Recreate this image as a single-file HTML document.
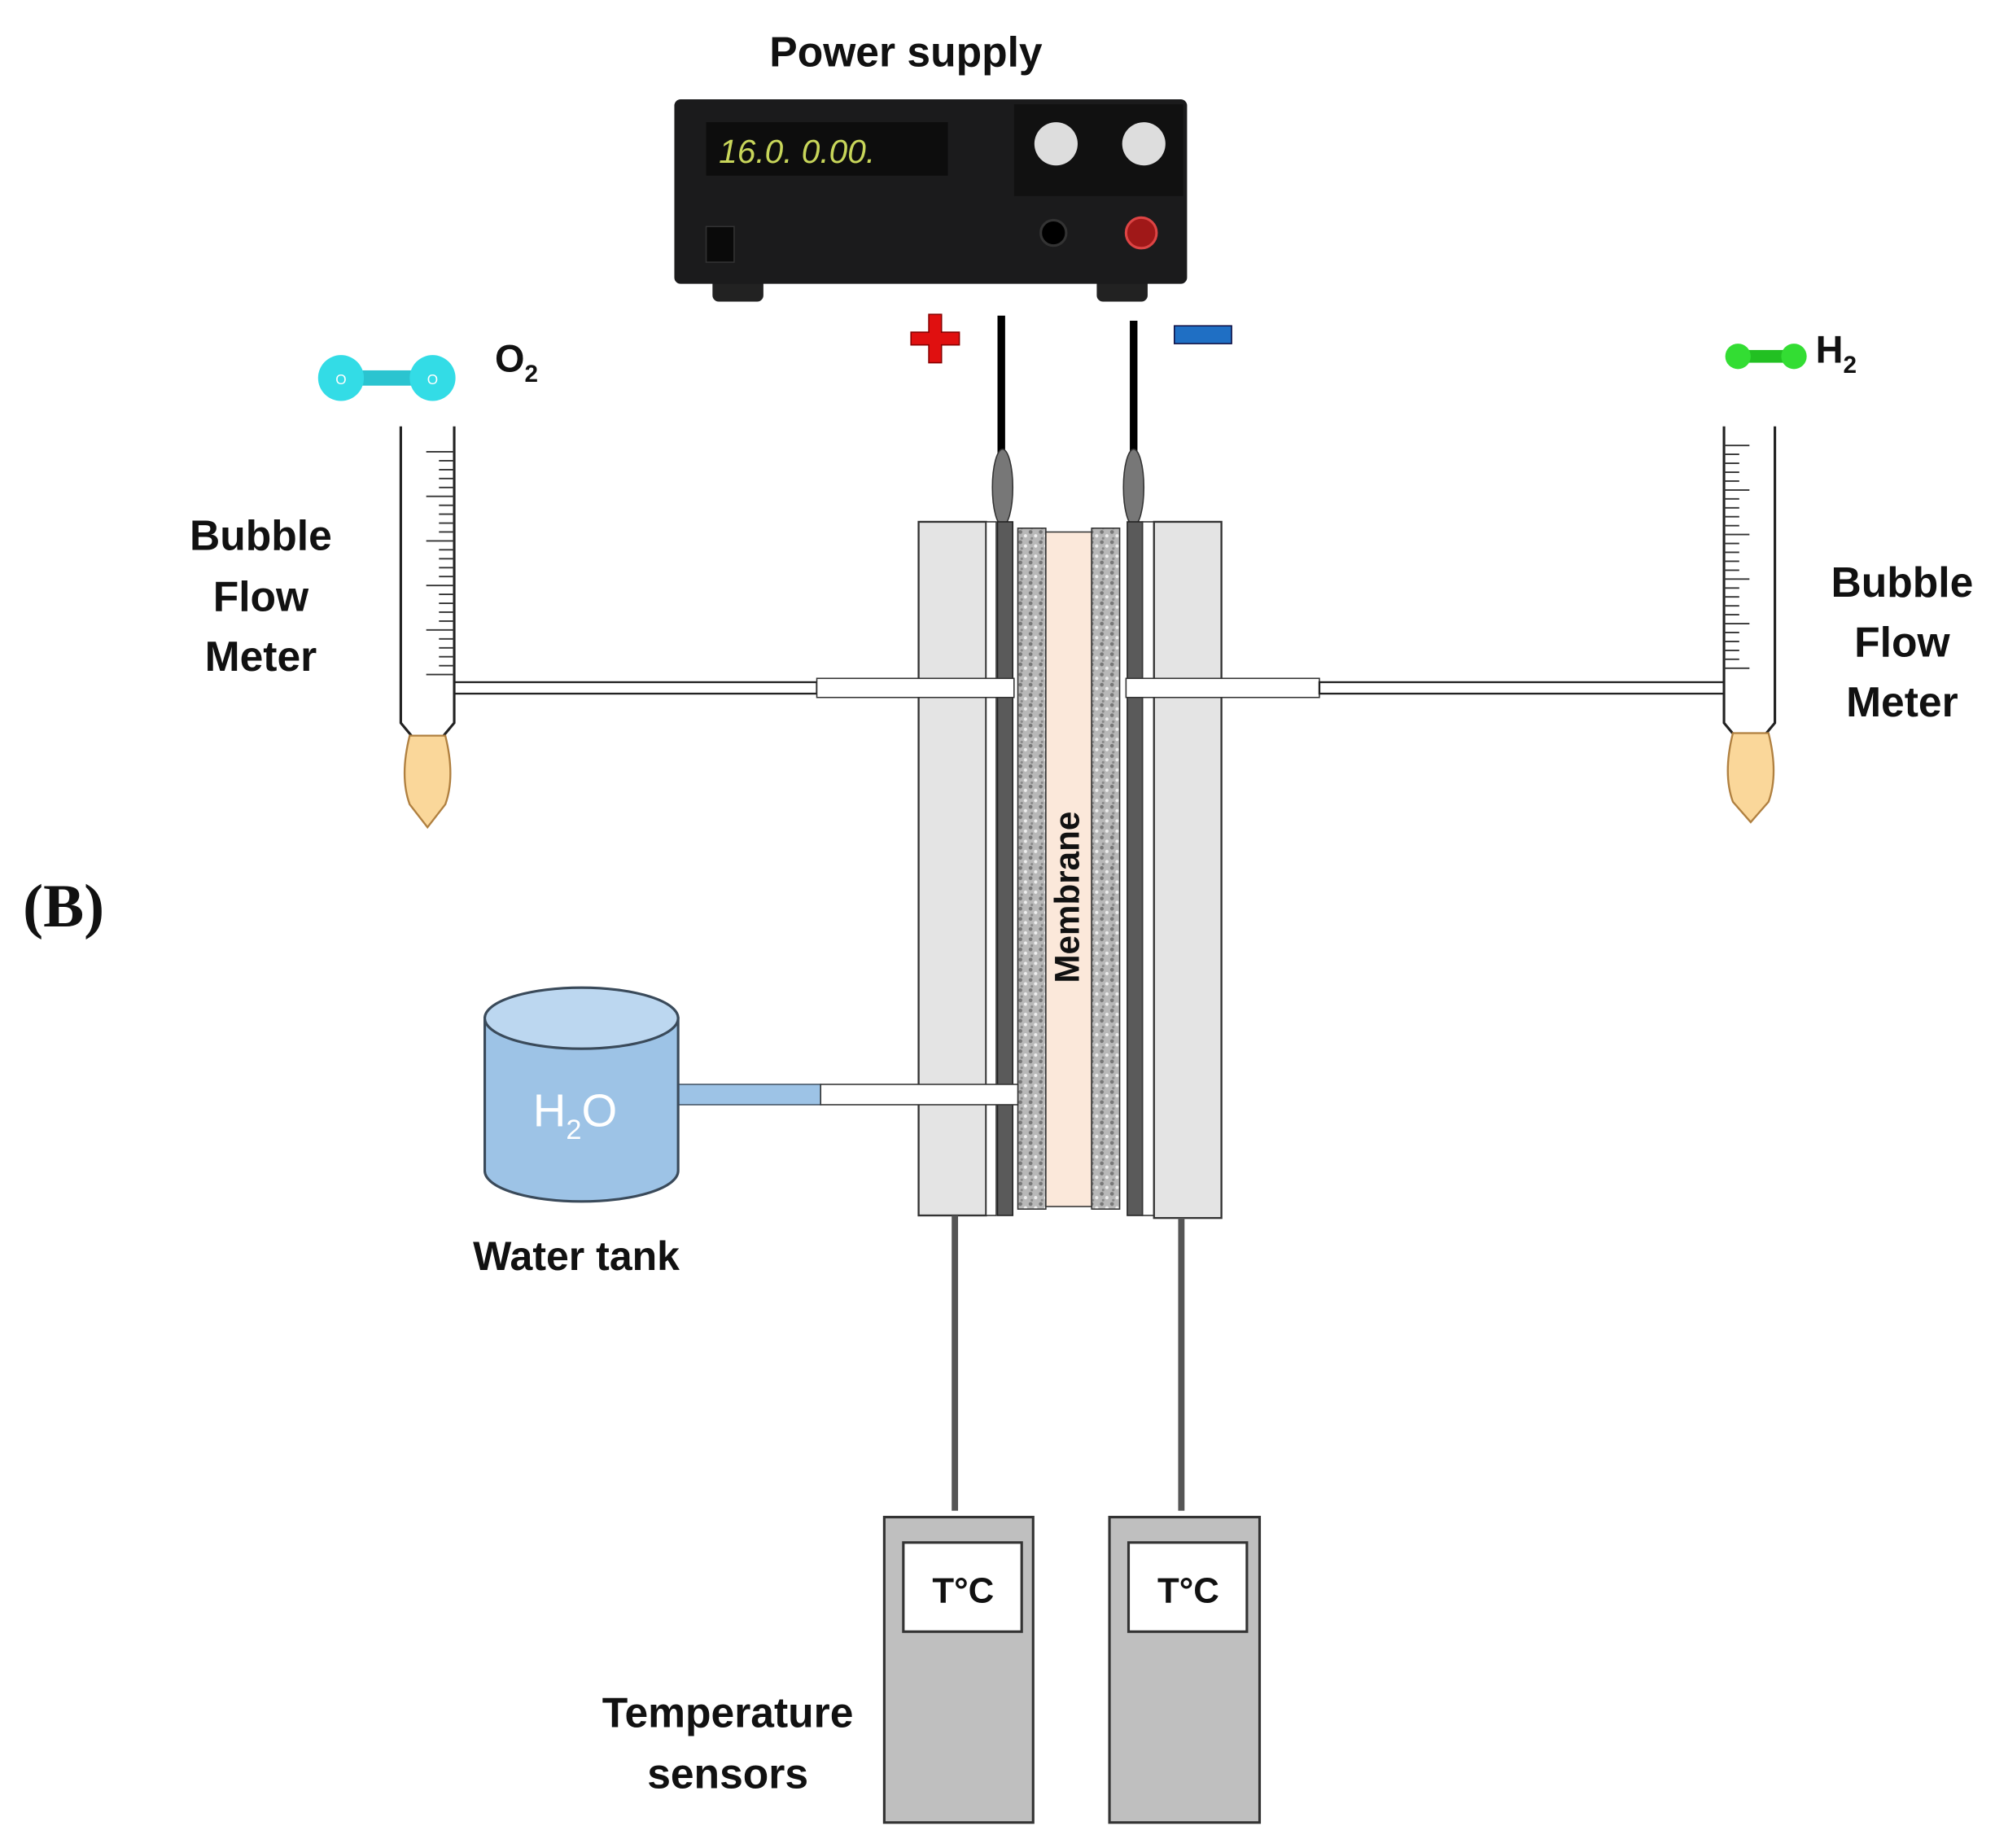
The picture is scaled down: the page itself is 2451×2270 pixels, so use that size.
<!DOCTYPE html>
<html><head><meta charset="utf-8"><style>
html,body{margin:0;padding:0;background:#fff;}
svg{display:block;}
text{font-family:"Liberation Sans","DejaVu Sans",sans-serif;font-weight:bold;fill:#111;}
</style></head><body>
<svg width="2451" height="2270" viewBox="0 0 1568 1452" preserveAspectRatio="none" xmlns="http://www.w3.org/2000/svg">
<defs>
<pattern id="spk" width="8" height="8" patternUnits="userSpaceOnUse">
<rect width="8" height="8" fill="#b8b8b8"/>
<circle cx="2" cy="2" r="1.5" fill="#777"/><circle cx="6" cy="5" r="1.3" fill="#eee"/><circle cx="3" cy="7" r="1" fill="#888"/>
</pattern>
</defs>
<!-- Power supply -->
<text x="712" y="52" font-size="33" text-anchor="middle">Power supply</text>
<rect x="560" y="215" width="40" height="22" rx="5" fill="#222"/>
<rect x="862" y="215" width="40" height="22" rx="5" fill="#222"/>
<rect x="530" y="78" width="403" height="145" rx="5" fill="#1b1b1c"/>
<rect x="555" y="96" width="190" height="42" fill="#0d0d0d"/>
<text x="565" y="128" font-size="26" style="fill:#c8d65a;font-style:italic;font-weight:normal">16.0. 0.00.</text>
<rect x="797" y="82" width="133" height="72" fill="#111"/>
<circle cx="830" cy="113" r="17" fill="#ddd"/>
<circle cx="899" cy="113" r="17" fill="#ddd"/>
<circle cx="828" cy="183" r="10" fill="#000" stroke="#333" stroke-width="2"/>
<circle cx="897" cy="183" r="12" fill="#a01818" stroke="#d44" stroke-width="2"/>
<rect x="555" y="178" width="22" height="28" fill="#0a0a0a" stroke="#333"/>
<!-- signs -->
<path d="M730 247h10v14h14v10h-14v14h-10v-14h-14v-10h14z" fill="#e01010" stroke="#800" stroke-width="1"/>
<rect x="923" y="256" width="45" height="14" fill="#1f6fc4" stroke="#114" stroke-width="1"/>
<!-- wires -->
<rect x="784" y="248" width="6" height="110" fill="#000"/>
<rect x="888" y="252" width="6" height="106" fill="#000"/>
<ellipse cx="788" cy="383" rx="8" ry="30" fill="#777" stroke="#333"/>
<ellipse cx="891" cy="383" rx="8" ry="30" fill="#777" stroke="#333"/>
<!-- cell -->
<rect x="722" y="410" width="53" height="545" fill="#e4e4e4" stroke="#333" stroke-width="1.5"/>
<rect x="775" y="410" width="8" height="545" fill="#fff" stroke="#333" stroke-width="1"/>
<rect x="784" y="410" width="12" height="545" fill="#5a5a5a" stroke="#222"/>
<rect x="800" y="415" width="22" height="535" fill="url(#spk)" stroke="#333"/>
<rect x="822" y="418" width="36" height="530" fill="#fbe8da" stroke="#333"/>
<rect x="858" y="415" width="22" height="535" fill="url(#spk)" stroke="#333"/>
<rect x="886" y="410" width="12" height="545" fill="#5a5a5a" stroke="#222"/>
<rect x="898" y="410" width="9" height="545" fill="#fff" stroke="#333" stroke-width="1"/>
<rect x="907" y="410" width="53" height="547" fill="#e4e4e4" stroke="#333" stroke-width="1.5"/>
<text transform="translate(848,705) rotate(-90)" font-size="27" text-anchor="middle">Membrane</text>
<!-- gas tubes -->
<rect x="357" y="536" width="285" height="9" fill="#fff" stroke="#222" stroke-width="1.5"/>
<rect x="642" y="533" width="155" height="15" fill="#fff" stroke="#333" stroke-width="1"/>
<rect x="885" y="533" width="152" height="15" fill="#fff" stroke="#333" stroke-width="1"/>
<rect x="1037" y="536" width="318" height="9" fill="#fff" stroke="#222" stroke-width="1.5"/>
<!-- water -->
<rect x="533" y="852" width="112" height="16" fill="#9dc3e6" stroke="#456" stroke-width="1"/>
<rect x="645" y="852" width="155" height="16" fill="#fff" stroke="#333" stroke-width="1"/>
<path d="M381 800 V920 A76 24 0 0 0 533 920 V800 Z" fill="#9dc3e6" stroke="#3a4a5a" stroke-width="2"/>
<ellipse cx="457" cy="800" rx="76" ry="24" fill="#bcd7f0" stroke="#3a4a5a" stroke-width="2"/>
<text x="452" y="885" font-size="36" text-anchor="middle" style="fill:#fff;font-weight:normal">H<tspan font-size="22" dy="10">2</tspan><tspan dy="-10">O</tspan></text>
<text x="453" y="998" font-size="32" text-anchor="middle">Water tank</text>
<!-- burettes -->
<g fill="none" stroke="#222" stroke-width="2">
<path d="M315 335 V568 L325 580 M357 335 V568 L347 580"/>
<path d="M1355 335 V568 L1365 580 M1395 335 V568 L1385 580"/>
</g>
<g stroke="#333" stroke-width="1.2">
<path d="M335 355h22M345 362h12M345 369h12M345 376h12M345 383h12M335 390h22M345 397h12M345 404h12M345 411h12M345 418h12M335 425h22M345 432h12M345 439h12M345 446h12M345 453h12M335 460h22M345 467h12M345 474h12M345 481h12M345 488h12M335 495h22M345 502h12M345 509h12M345 516h12M345 523h12M335 530h22"/>
<path d="M1355 350h20M1355 357h12M1355 364h12M1355 371h12M1355 378h12M1355 385h20M1355 392h12M1355 399h12M1355 406h12M1355 413h12M1355 420h20M1355 427h12M1355 434h12M1355 441h12M1355 448h12M1355 455h20M1355 462h12M1355 469h12M1355 476h12M1355 483h12M1355 490h20M1355 497h12M1355 504h12M1355 511h12M1355 518h12M1355 525h20"/>
</g>
<path d="M322 578 H350 Q358 610 350 632 L336 650 L322 632 Q314 610 322 578Z" fill="#fad79a" stroke="#b08040" stroke-width="1.5"/>
<path d="M1362 576 H1390 Q1398 608 1390 630 L1376 646 L1362 630 Q1354 608 1362 576Z" fill="#fad79a" stroke="#b08040" stroke-width="1.5"/>
<!-- molecules -->
<rect x="268" y="291" width="72" height="12" fill="#2bc4d0"/>
<circle cx="268" cy="297" r="18" fill="#33dce6"/>
<circle cx="340" cy="297" r="18" fill="#33dce6"/>
<text x="268" y="302" font-size="11" text-anchor="middle" style="fill:#fff;font-weight:normal">O</text>
<text x="340" y="302" font-size="11" text-anchor="middle" style="fill:#fff;font-weight:normal">O</text>
<text x="389" y="292" font-size="30">O<tspan font-size="19" dy="8">2</tspan></text>
<rect x="1365" y="275" width="45" height="10" fill="#22c022"/>
<circle cx="1366" cy="280" r="10" fill="#33dd33"/>
<circle cx="1410" cy="280" r="10" fill="#33dd33"/>
<text x="1427" y="285" font-size="30">H<tspan font-size="19" dy="8">2</tspan></text>
<!-- labels -->
<g font-size="33" text-anchor="middle">
<text x="205" y="432">Bubble</text><text x="205" y="480">Flow</text><text x="205" y="527">Meter</text>
<text x="1495" y="469">Bubble</text><text x="1495" y="516">Flow</text><text x="1495" y="563">Meter</text>
<text x="572" y="1357">Temperature</text><text x="572" y="1405">sensors</text>
</g>
<text x="18" y="728" font-size="48" style="font-family:'Liberation Serif',serif;font-weight:bold">(B)</text>
<!-- sensors -->
<rect x="748" y="955" width="5" height="232" fill="#555"/>
<rect x="926" y="957" width="5" height="230" fill="#555"/>
<rect x="695" y="1192" width="117" height="240" fill="#bfbfbf" stroke="#333" stroke-width="2"/>
<rect x="872" y="1192" width="118" height="240" fill="#bfbfbf" stroke="#333" stroke-width="2"/>
<rect x="710" y="1212" width="93" height="70" fill="#fff" stroke="#333" stroke-width="2"/>
<rect x="887" y="1212" width="93" height="70" fill="#fff" stroke="#333" stroke-width="2"/>
<text x="757" y="1259" font-size="28" text-anchor="middle">T°C</text>
<text x="934" y="1259" font-size="28" text-anchor="middle">T°C</text>
</svg>
</body></html>
